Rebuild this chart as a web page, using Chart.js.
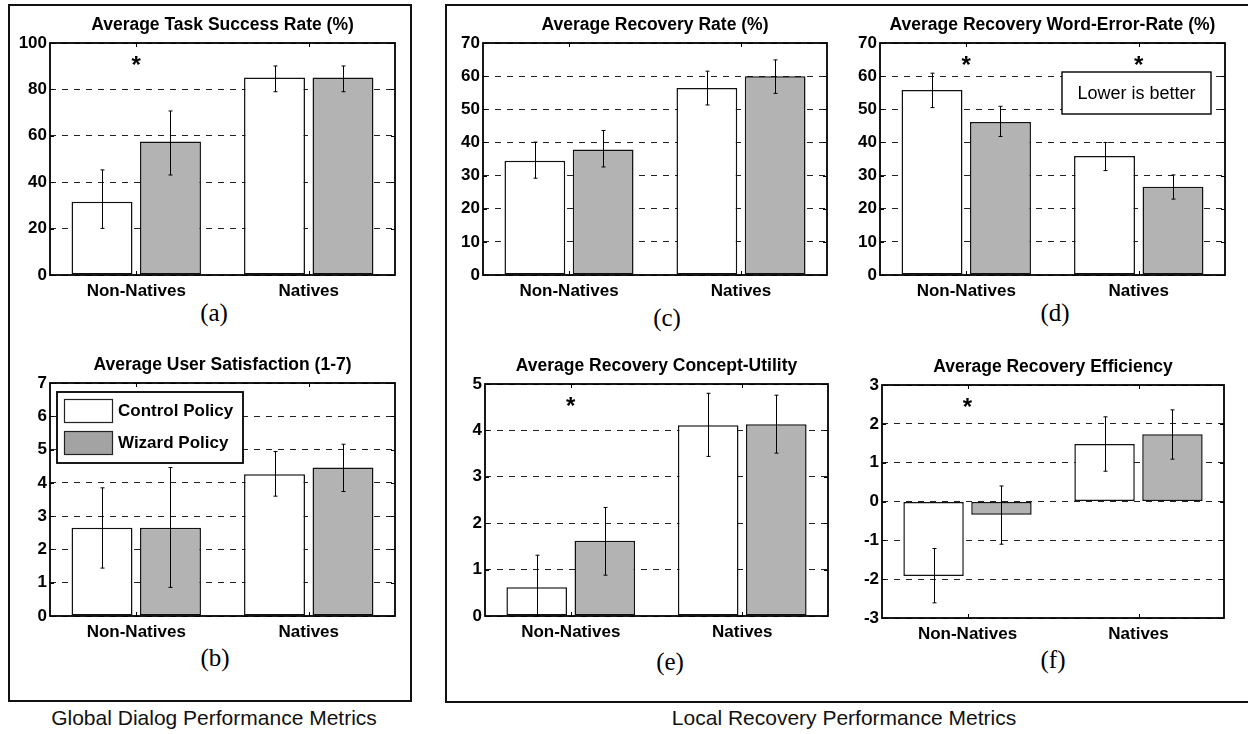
<!DOCTYPE html>
<html><head><meta charset="utf-8">
<script src="https://cdn.jsdelivr.net/npm/chart.js@4"></script>
<style>
body{margin:0;background:#fff;width:1248px;height:734px;position:relative;overflow:hidden;font-family:"Liberation Sans",Arial,sans-serif}
.box{position:absolute;border:2px solid #111;box-sizing:border-box}
canvas{position:absolute}
.lab{position:absolute;font-family:"Liberation Serif","Times New Roman",serif;font-size:25px;transform:translate(-50%,-50%);white-space:nowrap}
.cap{position:absolute;font-size:21px;transform:translate(-50%,-50%);white-space:nowrap;color:#111}
</style></head><body>
<div class="box" style="left:8px;top:4px;width:404px;height:698px"></div>
<div class="box" style="left:445px;top:4px;width:820px;height:699px"></div>
<div class="cap" style="left:214px;top:718px">Global Dialog Performance Metrics</div>
<div class="cap" style="left:844px;top:718px">Local Recovery Performance Metrics</div>
<div class="lab" style="left:214px;top:313px">(a)</div>
<div class="lab" style="left:215px;top:658px">(b)</div>
<div class="lab" style="left:667px;top:318px">(c)</div>
<div class="lab" style="left:1055px;top:313px">(d)</div>
<div class="lab" style="left:670px;top:662px">(e)</div>
<div class="lab" style="left:1053px;top:660px">(f)</div>
<script>
// ---------- DATA ----------
const categories = ['Non-Natives', 'Natives'];
const seriesNames = ['Control Policy', 'Wizard Policy'];

const taskSuccessControl     = [31.6, 85.1];
const taskSuccessControlLow  = [20.1, 79.0];
const taskSuccessControlHigh = [45.3, 90.1];
const taskSuccessWizard      = [57.5, 85.1];
const taskSuccessWizardLow   = [43.1, 79.0];
const taskSuccessWizardHigh  = [70.7, 90.1];

const satisfactionControl     = [2.65, 4.26];
const satisfactionControlLow  = [1.44, 3.60];
const satisfactionControlHigh = [3.85, 4.94];
const satisfactionWizard      = [2.65, 4.46];
const satisfactionWizardLow   = [0.86, 3.74];
const satisfactionWizardHigh  = [4.46, 5.16];

const recoveryRateControl     = [34.5, 56.4];
const recoveryRateControlLow  = [29.2, 51.3];
const recoveryRateControlHigh = [40.1, 61.5];
const recoveryRateWizard      = [37.9, 60.0];
const recoveryRateWizardLow   = [32.6, 54.8];
const recoveryRateWizardHigh  = [43.6, 64.9];

const werControl     = [55.8, 35.9];
const werControlLow  = [50.5, 31.5];
const werControlHigh = [60.9, 40.0];
const werWizard      = [46.2, 26.6];
const werWizardLow   = [41.8, 22.9];
const werWizardHigh  = [50.9, 30.2];

const utilityControl     = [0.62, 4.11];
const utilityControlLow  = [0.00, 3.44];
const utilityControlHigh = [1.31, 4.80];
const utilityWizard      = [1.62, 4.13];
const utilityWizardLow   = [0.88, 3.51];
const utilityWizardHigh  = [2.34, 4.76];

const efficiencyControl     = [-1.92, 1.48];
const efficiencyControlLow  = [-2.61, 0.78];
const efficiencyControlHigh = [-1.21, 2.18];
const efficiencyWizard      = [-0.34, 1.73];
const efficiencyWizardLow   = [-1.10, 1.09];
const efficiencyWizardHigh  = [0.40, 2.36];

// y-axis tick ranges [min, max, step]
const taskSuccessTicks  = [0, 100, 20];
const satisfactionTicks = [0, 7, 1];
const recoveryRateTicks = [0, 70, 10];
const werTicks          = [0, 70, 10];
const utilityTicks      = [0, 5, 1];
const efficiencyTicks   = [-3, 3, 1];

// significance markers (category indices)
const taskSuccessStars = [0];
const werStars = [0, 1];
const utilityStars = [0];
const efficiencyStars = [0];
const noteText = 'Lower is better';

// ---------- STYLE / LAYOUT ----------
const FONT = '"Liberation Sans", Arial, sans-serif';
const WHITE = '#ffffff', GRAY = '#b3b3b3', LEGEND_GRAY = '#a3a3a3', EDGE = '#111111';
const Y_AXIS_W = 42, X_AXIS_H = 30, TITLE_BLOCK = 35, PAD_R = 4;

const panelsLayout = [
  {plot:[50, 43, 395, 275]},
  {plot:[50, 383, 395, 616]},
  {plot:[483, 43, 827, 275]},
  {plot:[880, 43, 1225, 275]},
  {plot:[485, 384, 828, 616]},
  {plot:[882, 385, 1224, 618]}
];

const panelDefs = [
  {title:'Average Task Success Rate (%)', ticks:taskSuccessTicks, stars:taskSuccessStars,
   s:[[taskSuccessControl,taskSuccessControlLow,taskSuccessControlHigh],[taskSuccessWizard,taskSuccessWizardLow,taskSuccessWizardHigh]]},
  {title:'Average User Satisfaction (1-7)', ticks:satisfactionTicks, stars:[], legend:true,
   s:[[satisfactionControl,satisfactionControlLow,satisfactionControlHigh],[satisfactionWizard,satisfactionWizardLow,satisfactionWizardHigh]]},
  {title:'Average Recovery Rate (%)', ticks:recoveryRateTicks, stars:[],
   s:[[recoveryRateControl,recoveryRateControlLow,recoveryRateControlHigh],[recoveryRateWizard,recoveryRateWizardLow,recoveryRateWizardHigh]]},
  {title:'Average Recovery Word-Error-Rate (%)', ticks:werTicks, stars:werStars, note:noteText,
   s:[[werControl,werControlLow,werControlHigh],[werWizard,werWizardLow,werWizardHigh]]},
  {title:'Average Recovery Concept-Utility', ticks:utilityTicks, stars:utilityStars,
   s:[[utilityControl,utilityControlLow,utilityControlHigh],[utilityWizard,utilityWizardLow,utilityWizardHigh]]},
  {title:'Average Recovery Efficiency', ticks:efficiencyTicks, stars:efficiencyStars,
   s:[[efficiencyControl,efficiencyControlLow,efficiencyControlHigh],[efficiencyWizard,efficiencyWizardLow,efficiencyWizardHigh]]}
];

const framePlugin = {
  id: 'matlabFrame',
  afterDatasetsDraw(chart, args, o) {
    const ctx = chart.ctx, a = chart.chartArea, ys = chart.scales.y, xs = chart.scales.x;
    ctx.save();
    // error bars
    ctx.strokeStyle = '#000'; ctx.lineWidth = 1;
    chart.data.datasets.forEach((ds, i) => {
      const meta = chart.getDatasetMeta(i);
      meta.data.forEach((bar, j) => {
        const x = Math.round(bar.x) + 0.5;
        const y1 = ys.getPixelForValue(ds.errLow[j]), y2 = ys.getPixelForValue(ds.errHigh[j]);
        ctx.beginPath();
        ctx.moveTo(x, y1); ctx.lineTo(x, y2);
        ctx.moveTo(x - 2, y1); ctx.lineTo(x + 2, y1);
        ctx.moveTo(x - 2, y2); ctx.lineTo(x + 2, y2);
        ctx.stroke();
      });
    });
    // frame
    ctx.lineWidth = 1.8; ctx.strokeStyle = '#000';
    ctx.strokeRect(a.left, a.top, a.right - a.left, a.bottom - a.top);
    // inward ticks
    ctx.lineWidth = 1;
    ys.ticks.forEach(t => {
      const y = Math.round(ys.getPixelForValue(t.value)) + 0.5;
      ctx.beginPath();
      ctx.moveTo(a.left, y); ctx.lineTo(a.left + 4, y);
      ctx.moveTo(a.right, y); ctx.lineTo(a.right - 4, y);
      ctx.stroke();
    });
    chart.data.labels.forEach((l, j) => {
      const x = Math.round(xs.getPixelForValue(j)) + 0.5;
      ctx.beginPath();
      ctx.moveTo(x, a.bottom); ctx.lineTo(x, a.bottom - 4);
      ctx.moveTo(x, a.top); ctx.lineTo(x, a.top + 4);
      ctx.stroke();
    });
    // significance stars
    ctx.fillStyle = '#000';
    ctx.font = 'bold 24px ' + FONT;
    ctx.textAlign = 'center'; ctx.textBaseline = 'middle';
    (o.stars || []).forEach(j => {
      ctx.fillText('*', xs.getPixelForValue(j), a.top + 23);
    });
    // legend
    if (o.legend) {
      const bx = a.left + 7, by = a.top + 9, bw = 186, bh = 71;
      ctx.fillStyle = '#fff';
      ctx.fillRect(bx, by, bw, bh);
      ctx.lineWidth = 1.8; ctx.strokeStyle = '#000';
      ctx.strokeRect(bx, by, bw, bh);
      ctx.font = 'bold 17px ' + FONT; ctx.textAlign = 'left';
      chart.data.datasets.forEach((ds, i) => {
        const sy = by + 7 + i * 32;
        ctx.fillStyle = i === 0 ? WHITE : LEGEND_GRAY;
        ctx.fillRect(bx + 7, sy, 49, 24);
        ctx.lineWidth = 1.2; ctx.strokeStyle = '#222';
        ctx.strokeRect(bx + 7.5, sy + 0.5, 48, 23);
        ctx.fillStyle = '#000';
        ctx.fillText(ds.label, bx + 61, sy + 12);
      });
    }
    // note box
    if (o.note) {
      const bx = a.left + 182, by = a.top + 29, bw = 149, bh = 42;
      ctx.fillStyle = '#fff';
      ctx.fillRect(bx, by, bw, bh);
      ctx.lineWidth = 1.4; ctx.strokeStyle = '#000';
      ctx.strokeRect(bx, by, bw, bh);
      ctx.fillStyle = '#000';
      ctx.font = '18px ' + FONT; ctx.textAlign = 'center';
      ctx.fillText(o.note, bx + bw / 2, by + bh / 2 + 1);
    }
    ctx.restore();
  }
};

panelDefs.forEach((p, k) => {
  const [pl, pt, pr, pb] = panelsLayout[k].plot;
  const left = pl - Y_AXIS_W, top = pt - TITLE_BLOCK;
  const w = pr + PAD_R - left, h = pb + X_AXIS_H - top;
  const cv = document.createElement('canvas');
  cv.width = w; cv.height = h;
  cv.style.left = left + 'px'; cv.style.top = top + 'px';
  cv.style.width = w + 'px'; cv.style.height = h + 'px';
  document.body.appendChild(cv);
  const colors = [WHITE, GRAY];
  new Chart(cv, {
    type: 'bar',
    data: {
      labels: categories,
      datasets: p.s.map((s, i) => ({
        label: seriesNames[i],
        data: s[0], errLow: s[1], errHigh: s[2],
        backgroundColor: colors[i], borderColor: EDGE, borderWidth: 1.5,
        borderSkipped: false,
        categoryPercentage: 0.794, barPercentage: 0.89
      }))
    },
    options: {
      responsive: false, animation: false, devicePixelRatio: 1,
      layout: {padding: {left: 0, right: PAD_R, top: 0, bottom: 0}},
      plugins: {
        legend: {display: false}, tooltip: {enabled: false},
        title: {display: true, text: p.title, color: '#000', fullSize: false,
          font: {family: FONT, size: 17.5, weight: 'bold', lineHeight: 1.2},
          padding: {top: 7, bottom: 7}},
        matlabFrame: {stars: p.stars, legend: !!p.legend, note: p.note}
      },
      scales: {
        x: {
          grid: {display: false, drawTicks: false}, border: {display: false},
          ticks: {color: '#000', font: {family: FONT, size: 17, weight: 'bold'}, padding: 6},
          afterFit: s => { s.height = X_AXIS_H; }
        },
        y: {
          min: p.ticks[0], max: p.ticks[1],
          grid: {color: '#222', lineWidth: 1, drawTicks: false, borderDash: [6, 6]},
          border: {display: false, dash: [6, 6]},
          ticks: {stepSize: p.ticks[2], color: '#000', padding: 3,
            font: {family: FONT, size: 17, weight: 'bold'}},
          afterFit: s => { s.width = Y_AXIS_W; }
        }
      }
    },
    plugins: [framePlugin]
  });
});
</script>
</body></html>
